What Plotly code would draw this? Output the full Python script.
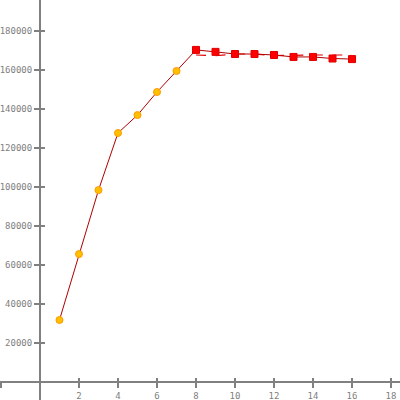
import plotly.graph_objects as go

x_vals = [1, 2, 3, 4, 5, 6, 7, 8, 9, 10, 11, 12, 13, 14, 15, 16]
y_vals = [31800, 65600, 98400, 127700, 136900, 148700, 159500, 170300,
          169300, 168200, 168200, 167700, 166700, 166700, 165900, 165600]
orange_n = 7
dash_x = [8, 9, 10, 11, 12, 13, 14, 15, 16]
dash_y = [167700, 167300, 168200, 168200, 167400, 167700, 167700, 167700, 167700]

x_ticks = [-2, 2, 4, 6, 8, 10, 12, 14, 16, 18]
x_text = ["", "2", "4", "6", "8", "10", "12", "14", "16", "18"]
y_ticks = [20000, 40000, 60000, 80000, 100000, 120000, 140000, 160000, 180000]

xr = [-2.05, 18.46]
yr = [-9230, 195900]
ypos = (0 - xr[0]) / (xr[1] - xr[0])
xpos = (0 - yr[0]) / (yr[1] - yr[0])

axc = "#808080"
fnt = dict(family="DejaVu Sans Mono", size=9, color="#808080")

fig = go.Figure()
fig.add_trace(go.Scatter(x=dash_x, y=dash_y, mode="lines",
                         line=dict(color="#e00000", width=1.2, dash="10px,9.5px"),
                         hoverinfo="skip", showlegend=False))
fig.add_trace(go.Scatter(x=x_vals, y=y_vals, mode="lines",
                         line=dict(color="#b00000", width=1), showlegend=False))
fig.add_trace(go.Scatter(x=x_vals[:orange_n], y=y_vals[:orange_n], mode="markers",
                         marker=dict(color="#FFC000", size=7, line=dict(color="#FF9900", width=1)),
                         showlegend=False))
fig.add_trace(go.Scatter(x=x_vals[orange_n:], y=y_vals[orange_n:], mode="markers",
                         marker=dict(color="#FF0000", size=7, symbol="square",
                                     line=dict(color="#E00000", width=1)),
                         showlegend=False))
fig.add_trace(go.Scatter(x=[xr[0]], y=[yr[0]], xaxis="x2", yaxis="y2", mode="markers",
                         marker=dict(opacity=0), hoverinfo="skip", showlegend=False))

fig.update_layout(
    width=400, height=400, margin=dict(l=0, r=0, t=0, b=0, autoexpand=False),
    paper_bgcolor="white", plot_bgcolor="white",
    xaxis=dict(range=xr, anchor="free", position=xpos, showline=True, linecolor=axc,
               linewidth=2, ticks="outside", ticklen=5, tickwidth=1.5, tickcolor=axc,
               tickvals=x_ticks, ticktext=x_text, showgrid=False, zeroline=False,
               tickfont=fnt, automargin=False),
    yaxis=dict(range=yr, anchor="free", position=ypos, showline=True, linecolor=axc,
               linewidth=2, ticks="outside", ticklen=5, tickwidth=1.5, tickcolor=axc,
               tickvals=y_ticks, showgrid=False, zeroline=False, tickfont=fnt,
               tickformat="d", automargin=False),
    xaxis2=dict(range=xr, overlaying="x", anchor="free", position=xpos, showline=False,
                ticks="inside", ticklen=4, tickwidth=1.5, tickcolor=axc, tickvals=x_ticks,
                showticklabels=False, showgrid=False, zeroline=False, automargin=False),
    yaxis2=dict(range=yr, overlaying="y", anchor="free", position=ypos, showline=False,
                ticks="inside", ticklen=4, tickwidth=1.5, tickcolor=axc, tickvals=y_ticks,
                showticklabels=False, showgrid=False, zeroline=False, automargin=False),
)
fig.write_html("out.html", config={"displayModeBar": False},
               post_script="document.body.style.margin='0';document.body.style.overflow='hidden';")
